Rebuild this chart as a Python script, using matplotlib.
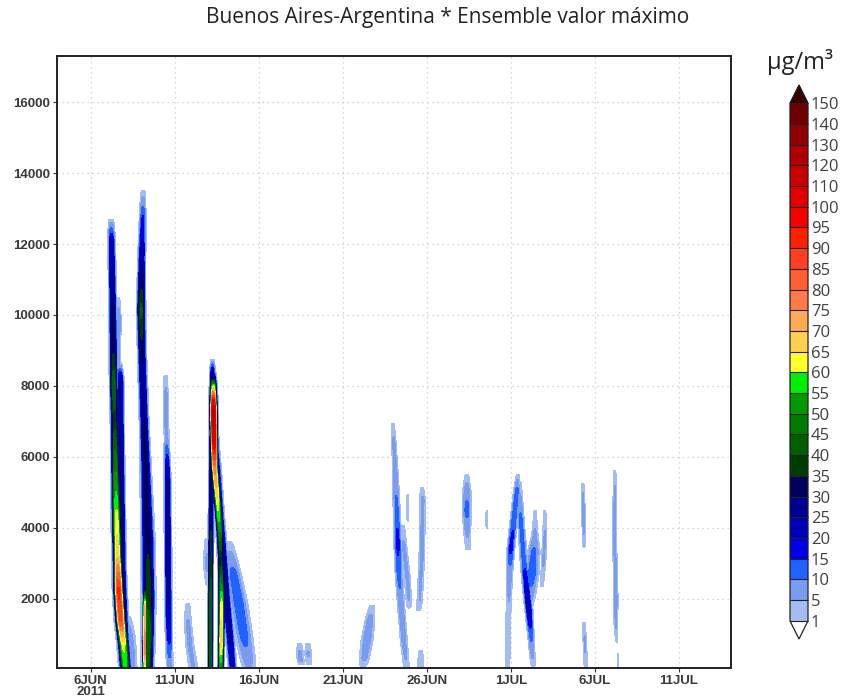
import numpy as np
import matplotlib
matplotlib.use("Agg")
import matplotlib.pyplot as plt
from matplotlib.colors import ListedColormap, BoundaryNorm
from matplotlib.cm import ScalarMappable

# ---------------- data ----------------
TITLE = "Buenos Aires-Argentina * Ensemble valor máximo"
UNITS = "µg/m³"
LEVELS = [1, 5, 10, 15, 20, 25, 30, 35, 40, 45, 50, 55, 60, 65, 70, 75, 80,
          85, 90, 95, 100, 110, 120, 130, 140, 150]
COLORS = ["#a3bdf3", "#7a9cf0", "#1f62ff", "#0000e8", "#0000b8", "#000090",
          "#00005c", "#003c00", "#005f00", "#007a00", "#009a00", "#00f000",
          "#ffff30", "#ffd050", "#ffaa55", "#ff7a46", "#ff5e30", "#ff4020",
          "#ff2000", "#f50000", "#e00000", "#c80000", "#b00000", "#900000",
          "#700000"]
OVER_COLOR = "#3a0000"
XTICKS = [6, 11, 16, 21, 26, 31, 36, 41]          # day counted from 1 June 2011
XTICKLABELS = ["6JUN\n2011", "11JUN", "16JUN", "21JUN", "26JUN", "1JUL",
               "6JUL", "11JUL"]
YTICKS = [2000, 4000, 6000, 8000, 10000, 12000, 14000, 16000]

# plume centre-lines:
# (day from 1 June, height m, max concentration µg/m3, half-width in days)
PLUME_A = [(7.22, 12700, 2, 0.14), (7.25, 12100, 22, 0.16), (7.31, 10400, 30, 0.17),
           (7.36, 8900, 35, 0.18), (7.38, 8000, 45, 0.18), (7.43, 7000, 38, 0.18),
           (7.49, 5350, 52, 0.2), (7.55, 4200, 63, 0.22), (7.60, 3250, 68, 0.22),
           (7.67, 2250, 92, 0.24), (7.79, 1400, 86, 0.25), (7.96, 700, 62, 0.26),
           (8.08, 0, 55, 0.26)]
PLUME_A2 = [(7.64, 10500, 2, 0.1), (7.67, 9900, 8, 0.12), (7.62, 8200, 6, 0.12),
            (7.58, 7500, 2, 0.12)]
PLUME_A3 = [(7.73, 8650, 2, 0.12), (7.78, 8200, 25, 0.15), (7.80, 6200, 30, 0.16),
            (7.85, 4200, 30, 0.17), (7.90, 2550, 28, 0.18), (8.02, 1000, 30, 0.2),
            (8.10, 0, 25, 0.2)]
PLUME_A_HALO = [(8.15, 1500, 2, 0.25), (8.25, 1000, 8, 0.3), (8.35, 500, 9, 0.3),
                (8.40, 0, 6, 0.3)]
PLUME_B = [(9.12, 13500, 2, 0.12), (9.10, 12800, 15, 0.15), (9.04, 11550, 25, 0.17),
           (9.00, 10150, 42, 0.19), (9.07, 8700, 30, 0.19), (9.18, 7050, 30, 0.2),
           (9.30, 5350, 32, 0.24), (9.40, 3650, 34, 0.3), (9.45, 2000, 38, 0.3),
           (9.42, 850, 45, 0.28), (9.40, 0, 40, 0.26)]
PLUME_B_CORE = [(9.24, 2600, 2, 0.07), (9.23, 1800, 72, 0.09), (9.22, 500, 78, 0.09),
                (9.22, 0, 60, 0.09)]
PLUME_C = [(10.46, 8300, 2, 0.1), (10.49, 7600, 8, 0.12), (10.52, 6500, 7, 0.12),
           (10.56, 5800, 20, 0.14), (10.58, 5350, 26, 0.15), (10.61, 3100, 28, 0.16),
           (10.64, 1400, 24, 0.16), (10.70, 200, 8, 0.16), (10.72, 0, 4, 0.16)]
PLUME_D = [(11.77, 1850, 2, 0.14), (11.80, 1270, 6, 0.18), (11.90, 700, 6, 0.2),
           (12.13, 0, 5, 0.24)]
PLUME_E_LEFT = [(13.26, 8750, 2, 0.1), (13.24, 8300, 30, 0.12), (13.22, 6750, 35, 0.12),
                (13.18, 5270, 30, 0.12), (13.15, 3100, 38, 0.12), (13.13, 1400, 45, 0.12),
                (13.12, 0, 42, 0.12)]
PLUME_E_CORE = [(13.29, 8450, 2, 0.12), (13.30, 8000, 60, 0.16), (13.31, 7300, 125, 0.18),
                (13.34, 6500, 105, 0.18), (13.38, 5700, 78, 0.18), (13.55, 4800, 65, 0.17),
                (13.68, 4000, 52, 0.16), (13.76, 3100, 35, 0.15), (13.79, 2000, 60, 0.14),
                (13.77, 850, 70, 0.14), (13.74, 0, 50, 0.14)]
PLUME_E_BLUE = [(13.40, 7000, 2, 0.12), (13.55, 5600, 22, 0.17), (13.72, 4300, 25, 0.18),
                (13.86, 3400, 28, 0.19), (14.10, 1900, 28, 0.19), (14.30, 900, 26, 0.19),
                (14.45, 0, 20, 0.19)]
PLUME_E_LIGHT = [(14.20, 3600, 2, 0.25), (14.50, 2700, 12, 0.35), (14.80, 1900, 13, 0.4),
                 (15.10, 1000, 12, 0.4), (15.35, 300, 8, 0.36), (15.45, 0, 4, 0.32)]
PLUME_E_HAZE = [(12.95, 3700, 2, 0.16), (12.95, 3000, 7, 0.2), (13.00, 2400, 2, 0.16)]
PLUME_F1 = [(18.44, 720, 2, 0.14), (18.44, 500, 6, 0.17), (18.50, 250, 6, 0.17),
            (18.55, 150, 2, 0.17)]
PLUME_F2 = [(18.92, 720, 2, 0.14), (18.95, 450, 6, 0.17), (19.00, 150, 2, 0.17)]
PLUME_G = [(22.75, 1800, 2, 0.16), (22.62, 1400, 7, 0.24), (22.45, 850, 8, 0.28),
           (22.28, 300, 6, 0.25), (22.22, 100, 2, 0.2)]
PLUME_H = [(23.98, 6950, 2, 0.09), (24.04, 6450, 6, 0.11), (24.15, 5350, 8, 0.14),
           (24.21, 4500, 12, 0.16), (24.27, 3650, 17, 0.17), (24.33, 2800, 13, 0.17),
           (24.45, 1950, 8, 0.17), (24.63, 850, 7, 0.17), (24.81, 0, 4, 0.15)]
PLUME_H2 = [(24.57, 4050, 2, 0.12), (24.63, 3500, 6, 0.15), (24.85, 2550, 6, 0.15),
            (24.93, 1950, 5, 0.14), (24.95, 1750, 2, 0.12)]
PLUME_H3 = [(24.87, 4950, 2, 0.05), (24.87, 4600, 4, 0.06), (24.87, 4200, 2, 0.05)]
PLUME_I = [(25.70, 5150, 2, 0.1), (25.76, 4800, 6, 0.14), (25.70, 3100, 6, 0.14),
           (25.58, 1950, 5, 0.14), (25.52, 1650, 2, 0.12)]
PLUME_I_BOT = [(25.64, 550, 2, 0.12), (25.64, 250, 5, 0.15), (25.64, 0, 3, 0.15)]
PLUME_J = [(28.38, 5500, 2, 0.12), (28.38, 5050, 8, 0.2), (28.38, 4500, 12, 0.2),
           (28.40, 3950, 7, 0.18), (28.45, 3400, 2, 0.14)]
PLUME_J2 = [(29.57, 4500, 2, 0.05), (29.57, 4250, 3, 0.05), (29.57, 4000, 2, 0.05)]
PLUME_K_LEFT = [(31.42, 5500, 2, 0.1), (31.36, 5050, 12, 0.15), (31.18, 4200, 14, 0.17),
                (31.00, 3400, 17, 0.17), (30.94, 2800, 8, 0.15), (30.88, 1950, 5, 0.13),
                (30.82, 850, 5, 0.12), (30.82, 0, 3, 0.12)]
PLUME_K_RIGHT = [(31.50, 5300, 2, 0.12), (31.60, 4200, 12, 0.15), (31.77, 3100, 12, 0.17),
                 (31.95, 2250, 22, 0.17), (32.07, 1700, 24, 0.17), (32.19, 1000, 12, 0.15),
                 (32.30, 300, 5, 0.13), (32.33, 100, 2, 0.12)]
PLUME_K_MID = [(32.45, 4500, 2, 0.07), (32.43, 3800, 6, 0.16), (32.37, 3350, 11, 0.28),
               (32.25, 2700, 13, 0.32), (32.13, 2100, 8, 0.28), (32.05, 1700, 2, 0.2)]
PLUME_K_EDGE = [(33.02, 4500, 2, 0.07), (33.02, 3950, 5, 0.1), (32.96, 3100, 6, 0.11),
                (32.85, 2350, 2, 0.1)]
PLUME_L_TOP = [(35.29, 5250, 2, 0.07), (35.29, 4900, 6, 0.09), (35.35, 3950, 6, 0.09),
               (35.35, 3450, 2, 0.07)]
PLUME_L_BOT = [(35.35, 1350, 2, 0.07), (35.40, 850, 6, 0.09), (35.46, 100, 4, 0.09),
               (35.47, 0, 2, 0.09)]
PLUME_M = [(37.19, 5600, 2, 0.07), (37.19, 5050, 6, 0.09), (37.19, 3400, 6, 0.1),
           (37.25, 1950, 7, 0.11), (37.25, 1150, 5, 0.09), (37.31, 800, 2, 0.07)]
PLUME_M_TIP = [(37.37, 450, 2, 0.03), (37.37, 250, 3, 0.04), (37.37, 100, 2, 0.03)]

PLUMES = [PLUME_A, PLUME_A2, PLUME_A3, PLUME_A_HALO, PLUME_B, PLUME_B_CORE, PLUME_C,
          PLUME_D, PLUME_E_LEFT, PLUME_E_CORE, PLUME_E_BLUE, PLUME_E_LIGHT,
          PLUME_E_HAZE, PLUME_F1, PLUME_F2, PLUME_G, PLUME_H, PLUME_H2, PLUME_H3,
          PLUME_I, PLUME_I_BOT, PLUME_J, PLUME_J2, PLUME_K_LEFT, PLUME_K_RIGHT,
          PLUME_K_MID, PLUME_K_EDGE, PLUME_L_TOP, PLUME_L_BOT, PLUME_M, PLUME_M_TIP]

# ---------------- field from plume descriptions ----------------
t = np.linspace(4.0, 44.1, 2400)
h = np.arange(0.0, 17400.0, 40.0)
Z = np.zeros((h.size, t.size))
for plume in PLUMES:
    arr = np.array(plume, dtype=float)
    arr = arr[np.argsort(arr[:, 1])]
    mask = (h >= arr[0, 1]) & (h <= arr[-1, 1])
    hh = h[mask]
    tc = np.interp(hh, arr[:, 1], arr[:, 0])
    vv = np.interp(hh, arr[:, 1], arr[:, 2])
    ww = np.interp(hh, arr[:, 1], arr[:, 3])
    g = vv[:, None] * np.exp(-np.abs((t[None, :] - tc[:, None]) / ww[:, None]) ** 3)
    Z[mask] = np.maximum(Z[mask], g)

# ---------------- figure ----------------
fig = plt.figure(figsize=(8.42, 7.00), dpi=100)
ax = fig.add_axes([57 / 842, 1 - 668 / 700, 674 / 842, 612 / 700])

cmap = ListedColormap(COLORS)
cmap.set_over(OVER_COLOR)
cmap.set_under("white")
norm = BoundaryNorm(LEVELS, ncolors=len(COLORS))

ax.contourf(t, h, Z, levels=LEVELS, cmap=cmap, norm=norm, extend="max")

ax.set_xlim(4.0, 44.1)
ax.set_ylim(50, 17300)
ax.set_axisbelow(True)
ax.grid(True, color="#c8c8c8", linestyle=(0, (1, 3)), linewidth=0.9)
ax.set_xticks(XTICKS)
ax.set_xticklabels(XTICKLABELS, linespacing=0.85)
ax.set_yticks(YTICKS)
ax.set_yticklabels([str(v) for v in YTICKS])
for lab in ax.get_xticklabels() + ax.get_yticklabels():
    lab.set_family("Liberation Sans")
    lab.set_fontsize(9.5)
    lab.set_fontweight("bold")
    lab.set_color("#3a3a3a")
ax.tick_params(axis="both", direction="out", length=3, width=0.8, color="#333333", pad=2)
for sp in ax.spines.values():
    sp.set_linewidth(1.4)
    sp.set_color("#222222")

fig.text(448 / 842, 1 - 18 / 700, TITLE, ha="center", va="center",
         fontsize=15, family="Open Sans", color="#222222")

# colorbar (axes includes the two end triangles)
cax = fig.add_axes([790 / 842, 1 - 639 / 700, 18 / 842, 554 / 700])
sm = ScalarMappable(norm=norm, cmap=cmap)
cb = fig.colorbar(sm, cax=cax, extend="both", extendfrac=0.035, drawedges=True,
                  ticks=LEVELS)
cb.set_ticklabels([str(v) for v in LEVELS])
cb.ax.tick_params(length=0, pad=2, labelsize=12, labelcolor="#404040")
for lab in cb.ax.get_yticklabels():
    lab.set_family("Open Sans")
cb.outline.set_linewidth(0.9)
cb.outline.set_edgecolor("#222222")
cb.dividers.set_color("#222222")
cb.dividers.set_linewidth(0.8)

fig.text(800 / 842, 1 - 62 / 700, UNITS, ha="center", va="center",
         fontsize=17, family="Open Sans", color="#222222")

fig.savefig("out.png", dpi=100)
